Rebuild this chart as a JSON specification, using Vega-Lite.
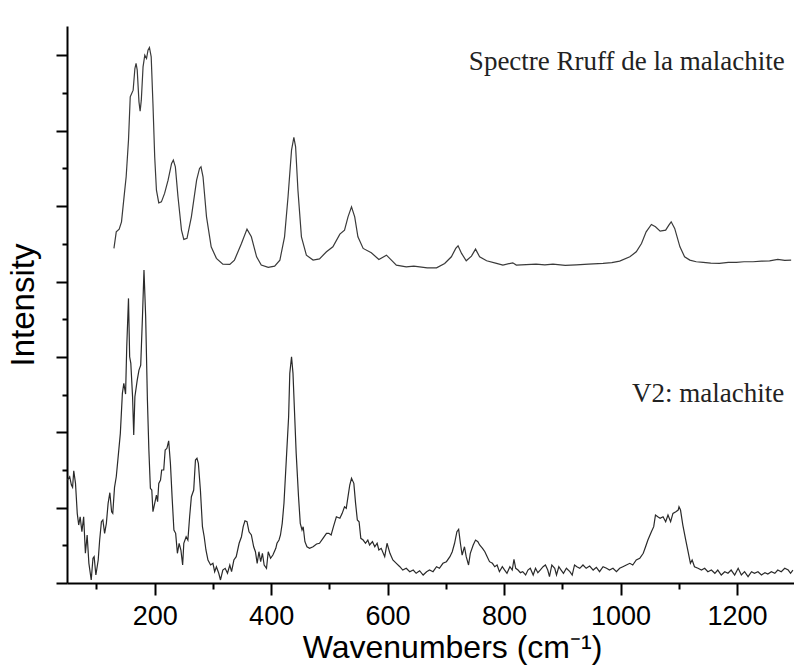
{
  "$schema": "https://vega.github.io/schema/vega-lite/v6.json",
  "width": 727,
  "height": 557,
  "autosize": {"type": "none"},
  "padding": {"left": 67, "top": 26, "right": 0, "bottom": 87},
  "background": "white",
  "config": {
    "view": {"stroke": null},
    "axis": {"grid": false, "domainColor": "#000", "tickColor": "#000", "domainWidth": 2, "tickWidth": 2, "labelColor": "#000", "titleColor": "#000", "titleFontWeight": "normal"}
  },
  "datasets": {
    "rruff": [
      {"w":130,"i":4439},{"w":134,"i":4659},{"w":139,"i":4695},{"w":143,"i":4792},{"w":148,"i":5169},{"w":151,"i":5389},{"w":155,"i":5876},{"w":158,"i":6450},{"w":163,"i":6539},{"w":166,"i":6826},{"w":168,"i":6893},{"w":170,"i":6804},{"w":173,"i":6384},{"w":175,"i":6260},{"w":177,"i":6406},{"w":180,"i":6848},{"w":183,"i":7003},{"w":186,"i":6959},{"w":188.5,"i":7069},{"w":191,"i":7105},{"w":194,"i":6980},{"w":197,"i":6362},{"w":200,"i":5654},{"w":203,"i":5212},{"w":207,"i":5044},{"w":211.5,"i":5057},{"w":217,"i":5169},{"w":223,"i":5345},{"w":229,"i":5566},{"w":232,"i":5610},{"w":235.5,"i":5521},{"w":240,"i":5124},{"w":246,"i":4682},{"w":250,"i":4559},{"w":255.5,"i":4572},{"w":263,"i":4858},{"w":272,"i":5345},{"w":277,"i":5500},{"w":279.5,"i":5521},{"w":283,"i":5389},{"w":289,"i":4858},{"w":297,"i":4460},{"w":306,"i":4307},{"w":317,"i":4231},{"w":329,"i":4227},{"w":337,"i":4284},{"w":349,"i":4505},{"w":358.5,"i":4695},{"w":366,"i":4593},{"w":375,"i":4328},{"w":383,"i":4218},{"w":395,"i":4187},{"w":406,"i":4204},{"w":415,"i":4284},{"w":423,"i":4593},{"w":429,"i":5124},{"w":435,"i":5743},{"w":439,"i":5911},{"w":442,"i":5787},{"w":446,"i":5212},{"w":452,"i":4593},{"w":460.5,"i":4350},{"w":472,"i":4284},{"w":483,"i":4301},{"w":495,"i":4394},{"w":506,"i":4460},{"w":518,"i":4629},{"w":526,"i":4682},{"w":532,"i":4858},{"w":538,"i":4991},{"w":543.5,"i":4858},{"w":549,"i":4593},{"w":558,"i":4439},{"w":572,"i":4381},{"w":585,"i":4293},{"w":598,"i":4350},{"w":606.5,"i":4284},{"w":615,"i":4218},{"w":632,"i":4195},{"w":645,"i":4205},{"w":655,"i":4195},{"w":668,"i":4180},{"w":684,"i":4182},{"w":698,"i":4240},{"w":709.5,"i":4328},{"w":717,"i":4439},{"w":721,"i":4474},{"w":727,"i":4373},{"w":735,"i":4275},{"w":744,"i":4337},{"w":751,"i":4430},{"w":758,"i":4328},{"w":770,"i":4275},{"w":787,"i":4240},{"w":798,"i":4218},{"w":815,"i":4248},{"w":821,"i":4218},{"w":838,"i":4225},{"w":855,"i":4231},{"w":870,"i":4222},{"w":884,"i":4231},{"w":905,"i":4215},{"w":924,"i":4222},{"w":945,"i":4230},{"w":970,"i":4240},{"w":985,"i":4250},{"w":998.5,"i":4271},{"w":1016,"i":4328},{"w":1027,"i":4394},{"w":1036,"i":4505},{"w":1044,"i":4659},{"w":1053,"i":4757},{"w":1060,"i":4726},{"w":1068,"i":4669},{"w":1077.5,"i":4682},{"w":1083,"i":4748},{"w":1087,"i":4792},{"w":1093,"i":4704},{"w":1102,"i":4460},{"w":1110,"i":4328},{"w":1119,"i":4284},{"w":1130,"i":4262},{"w":1142,"i":4253},{"w":1155,"i":4245},{"w":1170,"i":4240},{"w":1185,"i":4255},{"w":1199,"i":4253},{"w":1212,"i":4262},{"w":1227.5,"i":4262},{"w":1242,"i":4270},{"w":1256,"i":4275},{"w":1270,"i":4293},{"w":1282,"i":4280},{"w":1293,"i":4284}
    ],
    "v2": [
      {"w":50,"i":1366},{"w":54,"i":1410},{"w":57,"i":1300},{"w":59,"i":1269},{"w":61,"i":1489},{"w":64,"i":1322},{"w":67,"i":924},{"w":69.5,"i":769},{"w":72,"i":879},{"w":75,"i":680},{"w":78,"i":879},{"w":81,"i":394},{"w":84,"i":637},{"w":87,"i":261},{"w":91,"i":40},{"w":94,"i":328},{"w":96,"i":349},{"w":99,"i":106},{"w":103,"i":305},{"w":105.5,"i":570},{"w":108.5,"i":813},{"w":111,"i":836},{"w":114,"i":659},{"w":117,"i":792},{"w":120,"i":1057},{"w":123,"i":1198},{"w":126,"i":946},{"w":128,"i":924},{"w":131,"i":1269},{"w":134,"i":1410},{"w":137,"i":1654},{"w":141,"i":1985},{"w":144.5,"i":2516},{"w":147,"i":2649},{"w":150,"i":2507},{"w":152,"i":3134},{"w":155,"i":3776},{"w":157,"i":3001},{"w":159,"i":2914},{"w":162,"i":2471},{"w":164,"i":1963},{"w":166,"i":2471},{"w":170,"i":2692},{"w":173,"i":2825},{"w":176,"i":2891},{"w":179,"i":3532},{"w":181.6,"i":4151},{"w":184.5,"i":3532},{"w":187.5,"i":2427},{"w":190,"i":1764},{"w":192.6,"i":1256},{"w":195,"i":1233},{"w":197,"i":946},{"w":200,"i":1057},{"w":203,"i":1167},{"w":205,"i":1078},{"w":207,"i":1322},{"w":210,"i":1366},{"w":212,"i":1499},{"w":215.5,"i":1499},{"w":218,"i":1764},{"w":221,"i":1787},{"w":224,"i":1887},{"w":227,"i":1588},{"w":230,"i":1123},{"w":233,"i":703},{"w":236,"i":659},{"w":239,"i":394},{"w":242,"i":527},{"w":245,"i":438},{"w":248,"i":239},{"w":250,"i":527},{"w":254,"i":614},{"w":257,"i":570},{"w":260,"i":879},{"w":263,"i":1145},{"w":267,"i":1233},{"w":270,"i":1631},{"w":272.6,"i":1654},{"w":275,"i":1588},{"w":278.5,"i":1233},{"w":282,"i":747},{"w":285,"i":614},{"w":288,"i":438},{"w":291.5,"i":305},{"w":296,"i":239},{"w":300,"i":261},{"w":303,"i":150},{"w":306,"i":216},{"w":310,"i":129},{"w":313,"i":40},{"w":317,"i":172},{"w":321,"i":195},{"w":325,"i":129},{"w":329,"i":239},{"w":332,"i":150},{"w":336,"i":305},{"w":340,"i":349},{"w":345,"i":527},{"w":349,"i":614},{"w":352,"i":747},{"w":355,"i":826},{"w":358.5,"i":813},{"w":362,"i":680},{"w":366,"i":637},{"w":370,"i":481},{"w":373,"i":415},{"w":376,"i":261},{"w":379,"i":415},{"w":382,"i":283},{"w":385,"i":394},{"w":388,"i":239},{"w":392,"i":195},{"w":395,"i":415},{"w":399,"i":328},{"w":403,"i":371},{"w":408,"i":460},{"w":410,"i":527},{"w":413.5,"i":570},{"w":416,"i":637},{"w":419,"i":792},{"w":422,"i":1057},{"w":426,"i":1631},{"w":430,"i":2206},{"w":432,"i":2781},{"w":435,"i":3001},{"w":437.5,"i":2781},{"w":440,"i":2294},{"w":443,"i":1720},{"w":447,"i":1145},{"w":450,"i":792},{"w":453,"i":703},{"w":455,"i":747},{"w":458,"i":548},{"w":461.5,"i":481},{"w":466,"i":460},{"w":472,"i":481},{"w":478,"i":517},{"w":483,"i":527},{"w":489,"i":593},{"w":495,"i":659},{"w":499,"i":659},{"w":503,"i":637},{"w":507,"i":747},{"w":512,"i":879},{"w":518,"i":858},{"w":522,"i":924},{"w":526,"i":1012},{"w":529,"i":991},{"w":532,"i":1145},{"w":535,"i":1300},{"w":538,"i":1389},{"w":542,"i":1322},{"w":545,"i":1057},{"w":548,"i":836},{"w":551,"i":813},{"w":554,"i":593},{"w":558,"i":570},{"w":562,"i":527},{"w":566,"i":570},{"w":569,"i":504},{"w":574,"i":548},{"w":578,"i":481},{"w":582,"i":527},{"w":585,"i":438},{"w":589,"i":460},{"w":595,"i":349},{"w":599,"i":527},{"w":604,"i":394},{"w":609,"i":305},{"w":615,"i":261},{"w":621,"i":216},{"w":626,"i":172},{"w":632,"i":195},{"w":638,"i":150},{"w":644,"i":172},{"w":649,"i":129},{"w":655,"i":163},{"w":661,"i":106},{"w":667,"i":150},{"w":672,"i":172},{"w":678,"i":150},{"w":684,"i":216},{"w":689,"i":195},{"w":695,"i":261},{"w":701,"i":283},{"w":707,"i":349},{"w":711,"i":415},{"w":715,"i":527},{"w":719,"i":680},{"w":722,"i":712},{"w":725,"i":527},{"w":728,"i":371},{"w":732,"i":481},{"w":735,"i":349},{"w":739,"i":239},{"w":742,"i":394},{"w":747,"i":504},{"w":751,"i":570},{"w":755,"i":548},{"w":758,"i":504},{"w":763,"i":460},{"w":767,"i":415},{"w":771,"i":349},{"w":775,"i":283},{"w":780,"i":261},{"w":784,"i":216},{"w":788,"i":239},{"w":792,"i":150},{"w":797,"i":216},{"w":801,"i":172},{"w":805,"i":129},{"w":810,"i":216},{"w":814,"i":172},{"w":817,"i":314},{"w":820,"i":195},{"w":824,"i":172},{"w":828,"i":137},{"w":832,"i":150},{"w":837,"i":106},{"w":841,"i":172},{"w":845,"i":195},{"w":850,"i":106},{"w":854,"i":195},{"w":858,"i":137},{"w":862,"i":172},{"w":867,"i":216},{"w":871,"i":239},{"w":875,"i":172},{"w":878,"i":84},{"w":882,"i":239},{"w":887,"i":195},{"w":890,"i":106},{"w":894,"i":216},{"w":898,"i":172},{"w":902,"i":129},{"w":907,"i":195},{"w":913,"i":150},{"w":917,"i":106},{"w":921,"i":239},{"w":925,"i":216},{"w":930,"i":195},{"w":935.5,"i":239},{"w":941,"i":195},{"w":947,"i":225},{"w":953,"i":172},{"w":958.5,"i":208},{"w":964,"i":150},{"w":970,"i":216},{"w":976,"i":195},{"w":981,"i":172},{"w":987,"i":195},{"w":993,"i":150},{"w":998.5,"i":195},{"w":1004,"i":216},{"w":1010,"i":239},{"w":1016,"i":261},{"w":1021,"i":239},{"w":1027,"i":305},{"w":1033,"i":328},{"w":1039,"i":394},{"w":1043,"i":481},{"w":1047,"i":570},{"w":1053,"i":680},{"w":1057,"i":747},{"w":1060,"i":902},{"w":1064,"i":879},{"w":1068,"i":858},{"w":1073,"i":879},{"w":1077.5,"i":813},{"w":1081.5,"i":902},{"w":1086,"i":813},{"w":1090,"i":924},{"w":1095,"i":946},{"w":1099,"i":968},{"w":1100.4,"i":1012},{"w":1103,"i":968},{"w":1107,"i":769},{"w":1112,"i":570},{"w":1116,"i":415},{"w":1120,"i":261},{"w":1123,"i":305},{"w":1127,"i":216},{"w":1133,"i":195},{"w":1139,"i":172},{"w":1144.5,"i":195},{"w":1150,"i":150},{"w":1156,"i":172},{"w":1162,"i":129},{"w":1167,"i":172},{"w":1173,"i":106},{"w":1179,"i":150},{"w":1184.5,"i":129},{"w":1190,"i":172},{"w":1196,"i":106},{"w":1202,"i":195},{"w":1207.5,"i":106},{"w":1213,"i":150},{"w":1219,"i":84},{"w":1225,"i":150},{"w":1230,"i":129},{"w":1236,"i":150},{"w":1242,"i":106},{"w":1248,"i":137},{"w":1253,"i":119},{"w":1259,"i":150},{"w":1265,"i":129},{"w":1270,"i":172},{"w":1276,"i":150},{"w":1282,"i":195},{"w":1288,"i":172},{"w":1292,"i":129},{"w":1296,"i":172}
    ],
    "labels": [
      {"label": "Spectre Rruff de la malachite", "w": 1282, "i": 6804},
      {"label": "V2: malachite", "w": 1281, "i": 2405}
    ]
  },
  "resolve": {"axis": {"x": "independent", "y": "independent"}},
  "layer": [
    {
      "data": {"name": "rruff"},
      "mark": {"type": "line", "stroke": "#3a3a3a", "strokeWidth": 1.2, "clip": true},
      "encoding": {
        "x": {"field": "w", "type": "quantitative", "scale": {"domain": [49.4, 1297.9], "nice": false, "zero": false},
          "axis": {"orient": "bottom", "values": [200, 400, 600, 800, 1000, 1200], "format": "d", "tickSize": 12, "labelFont": "Liberation Sans", "labelFontSize": 27, "labelPadding": 8,
            "title": "Wavenumbers (cm⁻¹)", "titleFont": "Liberation Sans", "titleFontSize": 32, "titlePadding": 3, "titleX": 385}},
        "y": {"field": "i", "type": "quantitative", "scale": {"domain": [0, 7390], "nice": false},
          "axis": {"orient": "left", "values": [0, 1000, 2000, 3000, 4000, 5000, 6000, 7000], "tickSize": 11, "labels": false,
            "title": "Intensity", "titleFont": "Liberation Sans", "titleFontSize": 33, "titlePadding": 15}}
      }
    },
    {
      "data": {"name": "v2"},
      "mark": {"type": "line", "stroke": "#2a2a2a", "strokeWidth": 1.2, "clip": true},
      "encoding": {
        "x": {"field": "w", "type": "quantitative",
          "axis": {"orient": "bottom", "values": [100, 300, 500, 700, 900, 1100, 1300], "tickSize": 6, "labels": false, "domain": false, "title": null}},
        "y": {"field": "i", "type": "quantitative",
          "axis": {"orient": "left", "values": [500, 1500, 2500, 3500, 4500, 5500, 6500], "tickSize": 5, "labels": false, "domain": false, "title": null}}
      }
    },
    {
      "data": {"name": "labels"},
      "mark": {"type": "text", "font": "Liberation Serif", "fontSize": 27, "align": "right", "baseline": "alphabetic", "color": "#222"},
      "encoding": {
        "x": {"field": "w", "type": "quantitative", "axis": null},
        "y": {"field": "i", "type": "quantitative", "axis": null},
        "text": {"field": "label", "type": "nominal"}
      }
    }
  ]
}
